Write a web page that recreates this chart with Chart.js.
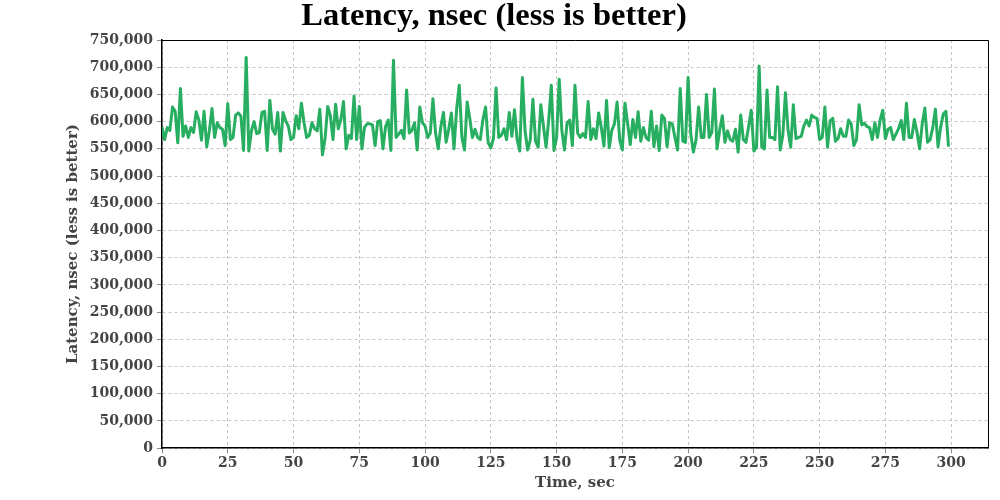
<!DOCTYPE html>
<html>
<head>
<meta charset="utf-8">
<script src="https://cdn.jsdelivr.net/npm/chart.js@4"></script>
<style>
  html, body { margin: 0; padding: 0; background: #fff; }
  #wrap { width: 1000px; height: 500px; }
</style>
</head>
<body>
<div id="wrap"><canvas id="latencyChart"></canvas></div>
<script>
// latency per second, nsec
var latency = [
  590, 567, 589, 584, 627, 619, 561, 661, 573, 592,
  571, 589, 580, 618, 603, 566, 619, 554, 583, 624,
  571, 598, 589, 586, 556, 633, 567, 571, 612, 616,
  610, 547, 718, 546, 583, 600, 578, 580, 617, 619,
  547, 639, 586, 577, 617, 546, 617, 602, 592, 567,
  571, 611, 587, 634, 598, 571, 575, 598, 587, 583,
  623, 539, 569, 628, 611, 567, 632, 587, 604, 637,
  550, 575, 569, 647, 567, 628, 550, 590, 596, 596,
  594, 556, 600, 602, 550, 591, 603, 547, 713, 571,
  577, 584, 569, 658, 579, 584, 598, 548, 627, 598,
  592, 571, 579, 642, 579, 550, 591, 617, 562, 586,
  616, 550, 623, 667, 571, 548, 636, 606, 571, 586,
  571, 567, 604, 627, 561, 552, 569, 662, 571, 575,
  587, 567, 617, 573, 622, 567, 546, 681, 584, 548,
  566, 641, 564, 553, 631, 592, 553, 602, 667, 547,
  571, 678, 584, 548, 598, 603, 556, 667, 579, 571,
  578, 571, 637, 567, 587, 569, 616, 589, 555, 639,
  552, 584, 596, 636, 566, 548, 634, 597, 558, 604,
  571, 618, 564, 589, 571, 566, 619, 554, 592, 547,
  612, 606, 554, 598, 596, 571, 548, 661, 564, 562,
  681, 578, 544, 566, 627, 571, 571, 650, 571, 580,
  660, 550, 584, 611, 562, 583, 567, 564, 586, 544,
  612, 567, 562, 591, 621, 546, 553, 702, 553, 550,
  658, 571, 571, 567, 664, 548, 575, 653, 584, 553,
  631, 569, 571, 573, 592, 603, 592, 612, 608, 606,
  567, 571, 627, 553, 602, 606, 564, 569, 587, 573,
  573, 603, 596, 556, 567, 631, 594, 597, 591, 589,
  567, 598, 571, 603, 621, 569, 586, 589, 567, 577,
  587, 602, 567, 634, 571, 571, 604, 581, 550, 596,
  625, 562, 567, 589, 623, 554, 590, 614, 619, 554
];
var seconds = latency.map(function (v, i) { return i; });

var yTicks = { min: 0, max: 750000, step: 50000 };
var xTicks = { min: 0, max: 314, step: 25 };

var serif = "'DejaVu Serif', serif";
var titleSerif = "'Liberation Serif', 'Times New Roman', serif";
var labelColor = '#444';
var gridColor = '#c4c4c4';

// draws the top and right edges of the plot box
var frame = {
  id: 'frame',
  afterDraw: function (chart) {
    var a = chart.chartArea, c = chart.ctx;
    c.save();
    c.strokeStyle = '#000';
    c.lineWidth = 1;
    c.beginPath();
    c.moveTo(a.left, a.top + 0.5);
    c.lineTo(a.right + 0.5, a.top + 0.5);
    c.lineTo(a.right + 0.5, a.bottom);
    c.stroke();
    c.restore();
  }
};

var ctx = document.getElementById('latencyChart');

new Chart(ctx, {
  type: 'line',
  data: {
    datasets: [{
      label: 'Latency',
      data: seconds.map(function (s, i) { return { x: s, y: latency[i] * 1000 }; }),
      borderColor: '#27ae60',
      backgroundColor: '#27ae60',
      borderWidth: 3,
      borderJoinStyle: 'round',
      pointRadius: 0,
      tension: 0,
      fill: false
    }]
  },
  options: {
    responsive: true,
    maintainAspectRatio: false,
    animation: false,
    layout: { padding: { left: 0, right: 12, top: 0, bottom: 0 } },
    plugins: {
      legend: { display: false },
      tooltip: { enabled: false },
      title: {
        display: true,
        text: 'Latency, nsec (less is better)',
        color: '#000',
        font: { family: titleSerif, size: 32.5, weight: 'bold', lineHeight: 1 },
        padding: { top: 0, bottom: 7.5 }
      }
    },
    scales: {
      x: {
        type: 'linear',
        min: xTicks.min,
        max: xTicks.max,
        border: { display: true, color: '#000', width: 1.5, dash: [3, 3] },
        grid: { color: gridColor, lineWidth: 1, tickLength: 5, tickColor: '#888', tickBorderDash: [] },
        ticks: {
          stepSize: xTicks.step,
          includeBounds: false,
          color: labelColor,
          padding: 2,
          maxRotation: 0,
          font: { family: serif, size: 14, weight: 'bold' }
        },
        title: {
          display: true,
          text: 'Time, sec',
          color: labelColor,
          font: { family: serif, size: 15, weight: 'bold' },
          padding: { top: 0, bottom: 8 }
        }
      },
      y: {
        min: yTicks.min,
        max: yTicks.max,
        border: { display: true, color: '#000', width: 1.5, dash: [3, 3] },
        grid: { color: gridColor, lineWidth: 1, tickLength: 5, tickColor: '#888', tickBorderDash: [] },
        ticks: {
          stepSize: yTicks.step,
          color: labelColor,
          padding: 4,
          font: { family: serif, size: 14, weight: 'bold' },
          callback: function (v) { return v.toLocaleString('en-US'); }
        },
        title: {
          display: true,
          text: 'Latency, nsec (less is better)',
          color: labelColor,
          font: { family: serif, size: 15, weight: 'bold' },
          padding: { top: 64, bottom: 4 }
        },
        afterFit: function (scale) { scale.width = 162; }
      }
    }
  },
  plugins: [frame]
});
</script>
</body>
</html>
